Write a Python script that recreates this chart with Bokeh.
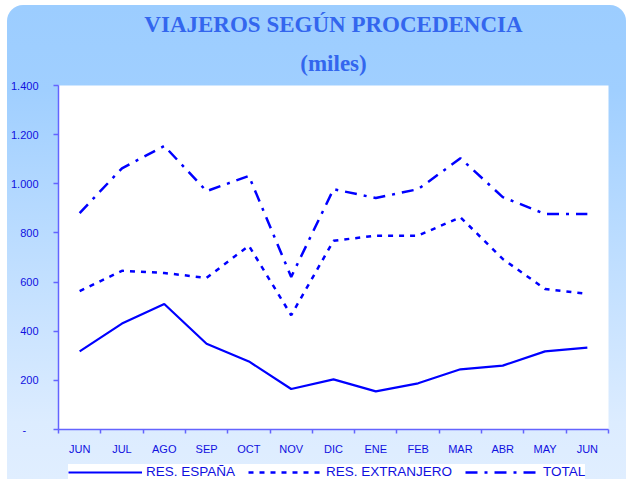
from bokeh.plotting import figure
from bokeh.layouts import column
from bokeh.models import FixedTicker, Legend, LegendItem, Title
from bokeh.embed import file_html
from bokeh.resources import INLINE

# ---- data ----
months = ["JUN", "JUL", "AGO", "SEP", "OCT", "NOV", "DIC", "ENE", "FEB", "MAR", "ABR", "MAY", "JUN"]
res_espana = [318, 431, 511, 349, 277, 165, 204, 155, 188, 245, 260, 318, 333]
res_extranjero = [563, 646, 637, 617, 748, 465, 768, 789, 789, 864, 694, 572, 552]
total = [881, 1063, 1154, 970, 1032, 621, 978, 942, 978, 1104, 946, 877, 877]
y_ticks = [0, 200, 400, 600, 800, 1000, 1200, 1400]
y_tick_labels = ["-\u00a0\u00a0\u00a0\u00a0", "200", "400", "600", "800", "1.000", "1.200", "1.400"]
series_names = ["RES. ESPAÑA", "RES. EXTRANJERO", "TOTAL"]

xs = list(range(len(months)))
series = [res_espana, res_extranjero, total]

BLUE = "#0000ff"
AXIS = "#6464ff"
LABEL = "#1010e0"
TITLE = "#3366ee"
STYLES = [dict(line_color=BLUE, line_width=2.2),
          dict(line_color=BLUE, line_width=2.5, line_dash="5 6"),
          dict(line_color=BLUE, line_width=2.5, line_dash="12 7 3 7")]

p = figure(width=619, height=452, x_range=(-0.5, len(months) - 0.5), y_range=(0, 1400),
           output_backend="svg", toolbar_location=None,
           min_border_left=49, min_border_right=18, min_border_top=80, min_border_bottom=26)
p.border_fill_color = None
p.background_fill_color = "white"
p.outline_line_color = None
p.xgrid.grid_line_color = None
p.ygrid.grid_line_color = None

# titles
p.title.text = "VIAJEROS SEGÚN PROCEDENCIA"
p.title.align = "center"
p.title.text_font = "Liberation Serif"
p.title.text_font_size = "23px"
p.title.text_font_style = "bold"
p.title.text_color = TITLE
p.title.standoff = 5
sub = Title(text="(miles)", align="center", text_font="Liberation Serif", text_font_size="23px",
            text_font_style="bold", text_color=TITLE, standoff=19)
p.add_layout(sub, "above")

# lines
for ys, st in zip(series, STYLES):
    p.line(xs, ys, **st)

# x axis
p.xaxis.ticker = FixedTicker(ticks=xs, minor_ticks=[i - 0.5 for i in range(len(months) + 1)])
p.xaxis.major_label_overrides = {i: m for i, m in enumerate(months)}
p.xaxis.major_tick_out = 0
p.xaxis.major_tick_in = 0
p.xaxis.minor_tick_out = 4
p.xaxis.minor_tick_in = 0
p.xaxis.minor_tick_line_color = AXIS
p.xaxis.minor_tick_line_width = 1.5
p.xaxis.major_label_standoff = 9

# y axis
p.yaxis.ticker = FixedTicker(ticks=y_ticks)
p.yaxis.major_label_overrides = {t: l for t, l in zip(y_ticks, y_tick_labels)}
p.yaxis.major_tick_out = 5
p.yaxis.major_tick_in = 0
p.yaxis.minor_tick_line_color = None
p.yaxis.major_label_standoff = 15

for ax in (p.xaxis, p.yaxis):
    ax.axis_line_color = AXIS
    ax.axis_line_width = 1.5
    ax.major_tick_line_color = AXIS
    ax.major_tick_line_width = 1.5
    ax.major_label_text_color = LABEL
    ax.major_label_text_font = "Liberation Sans"
    ax.major_label_text_font_size = "11px"

# legend strip (separate panel below the chart); its lines fall outside its range
leg = figure(width=619, height=22, x_range=(0, 1), y_range=(0, 1),
             output_backend="svg", toolbar_location=None,
             x_axis_location=None, y_axis_location=None,
             min_border_left=0, min_border_right=0, min_border_top=0, min_border_bottom=0)
leg.border_fill_color = None
leg.background_fill_color = None
leg.outline_line_color = None
leg.xgrid.grid_line_color = None
leg.ygrid.grid_line_color = None
keys = [leg.line(xs, ys, **st) for ys, st in zip(series, STYLES)]

legend = Legend(items=[LegendItem(label=n, renderers=[r]) for n, r in zip(series_names, keys)],
                orientation="horizontal", location=(10, 0),
                glyph_width=74, glyph_height=14, label_height=14, label_standoff=4,
                spacing=13, padding=1, margin=0,
                label_text_font="Liberation Sans", label_text_font_size="13.5px",
                label_text_color=LABEL, background_fill_color="white", background_fill_alpha=1,
                border_line_color=None)
leg.add_layout(legend)

page = column(p, leg, spacing=0)
page.styles = {"background": "linear-gradient(to bottom, #9ccdff 0%, #a0cfff 18%, #dcecff 88%, #e0eeff 100%)",
               "border-radius": "16px 16px 0px 0px",
               "margin-left": "7px", "margin-top": "5px"}

open("out.html", "w").write(file_html(page, INLINE))
